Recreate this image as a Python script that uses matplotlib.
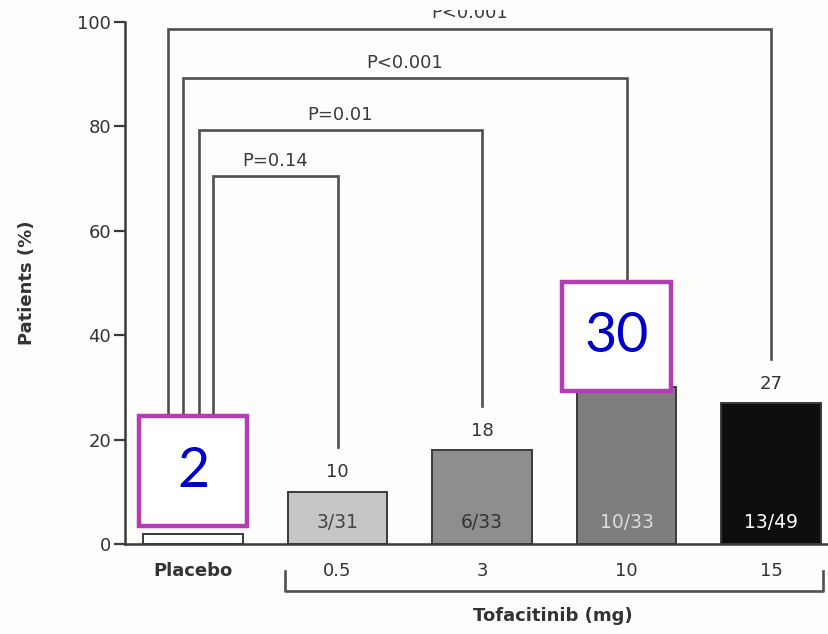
import matplotlib
matplotlib.use("Agg")
import matplotlib.pyplot as plt
from matplotlib.patches import Rectangle
from matplotlib.transforms import Bbox

# Responders by treatment group
groups = ["Placebo", "0.5", "3", "10", "15"]
percent = [2, 10, 18, 30, 27]
fractions = ["1/48", "3/31", "6/33", "10/33", "13/49"]
bar_colors = ["#ffffff", "#c6c6c6", "#8e8e8e", "#7e7e7e", "#0e0e0e"]
frac_colors = ["#555555", "#444444", "#333333", "#dddddd", "#ffffff"]

# Pairwise comparisons with placebo: (target group index, bracket height, label)
comparisons_target = [1, 2, 3, 4]
comparisons_height = [70.5, 79.3, 89.3, 98.7]
comparisons_label = ["P=0.14", "P=0.01", "P<0.001", "P<0.001"]
left_offsets = [0.138, 0.04, -0.069, -0.173]

# Highlighted values
highlight_idx = [0, 3]

W, H = 829, 634
fig = plt.figure(figsize=(W / 100, H / 100), dpi=100)
fig.patch.set_facecolor("#fdfdfb")

ax = fig.add_axes([125 / W, 1 - 544 / H, (W - 125) / W, (544 - 22) / H])
ax.set_facecolor("none")

x = list(range(len(groups)))
ax.bar(x, percent, width=0.69, color=bar_colors, edgecolor="#3a3a3a",
       linewidth=1.4, zorder=2)

ax.set_xlim(-0.4706, 4.401)
ax.set_ylim(0, 100)

line_c = "#4f4f4f"
lw = 1.9

# value labels and counts (highlighted bars carry their value in the box)
for i, v in enumerate(percent):
    if i not in highlight_idx:
        ax.text(i, v + 2.0, str(v), ha="center", va="bottom", fontsize=13,
                color="#333333", zorder=3)
    ax.text(i, 4.2 if i > 0 else 4.6, fractions[i], ha="center", va="center",
            fontsize=13.5, color=frac_colors[i], zorder=3)

# top band of the figure is blanked out
top_clip = Bbox.from_extents(0, 0, W, H - 10)

# comparison brackets
for t, h, lab, lo in zip(comparisons_target, comparisons_height,
                         comparisons_label, left_offsets):
    xl = lo
    xr = t
    bottom_r = percent[t] + 8.5
    ax.plot([xl, xl, xr, xr], [9, h, h, bottom_r], color=line_c, lw=lw,
            solid_joinstyle="miter", clip_on=False, zorder=1)
    if h > 95:
        txt = fig.text(((xl + xr) / 2 + 0.4706) / 4.8716 * (W - 125) / W + 125 / W,
                       1 - 18 / H, lab, ha="center", va="baseline",
                       fontsize=13, color="#3a3a3a")
        txt.set_clip_on(True)
        txt.set_clip_box(top_clip)
    else:
        ax.text((xl + xr) / 2, h + 1.2, lab, ha="center", va="bottom",
                fontsize=13, color="#3a3a3a", clip_on=False)

# axes styling
for s in ["top", "right"]:
    ax.spines[s].set_visible(False)
ax.spines["left"].set_color("#3a3a3a")
ax.spines["left"].set_linewidth(1.8)
ax.spines["bottom"].set_color("#3a3a3a")
ax.spines["bottom"].set_linewidth(1.8)
ax.set_yticks([0, 20, 40, 60, 80, 100])
ax.tick_params(axis="y", direction="out", length=8, width=1.6,
               color="#3a3a3a", labelsize=13, labelcolor="#333333", pad=2)
ax.set_xticks(x)
ax.set_xticklabels(groups, fontsize=13, color="#333333")
ax.get_xticklabels()[0].set_fontweight("bold")
ax.tick_params(axis="x", length=0, pad=13)
ax.set_ylabel("Patients (%)", fontsize=13, fontweight="bold", color="#333333",
              labelpad=30)

# dose bracket
ax.plot([0.637, 0.637, 4.36, 4.36], [-5.2, -9.0, -9.0, -5.2], color=line_c,
        lw=lw, clip_on=False)
ax.text(2.49, -13.8, "Tofacitinib (mg)", ha="center", va="center",
        fontsize=13, fontweight="bold", color="#333333", clip_on=False)

# highlight boxes
box_geom = {0: (-0.374, 3.45, 0.748, 21.05, 0.0, 13.8),
            3: (2.554, 29.3, 0.754, 20.9, 2.93, 39.7)}
for i in highlight_idx:
    bx, by, bw, bh, tx, ty = box_geom[i]
    ax.add_patch(Rectangle((bx, by), bw, bh, facecolor="white",
                           edgecolor="#b43cb4", linewidth=3.2, zorder=5,
                           clip_on=False))
    ax.text(tx, ty, str(percent[i]), ha="center", va="center", fontsize=40,
            color="#0000c8", family="Lato", zorder=6)

fig.savefig("out.png", dpi=100, facecolor=fig.get_facecolor())
